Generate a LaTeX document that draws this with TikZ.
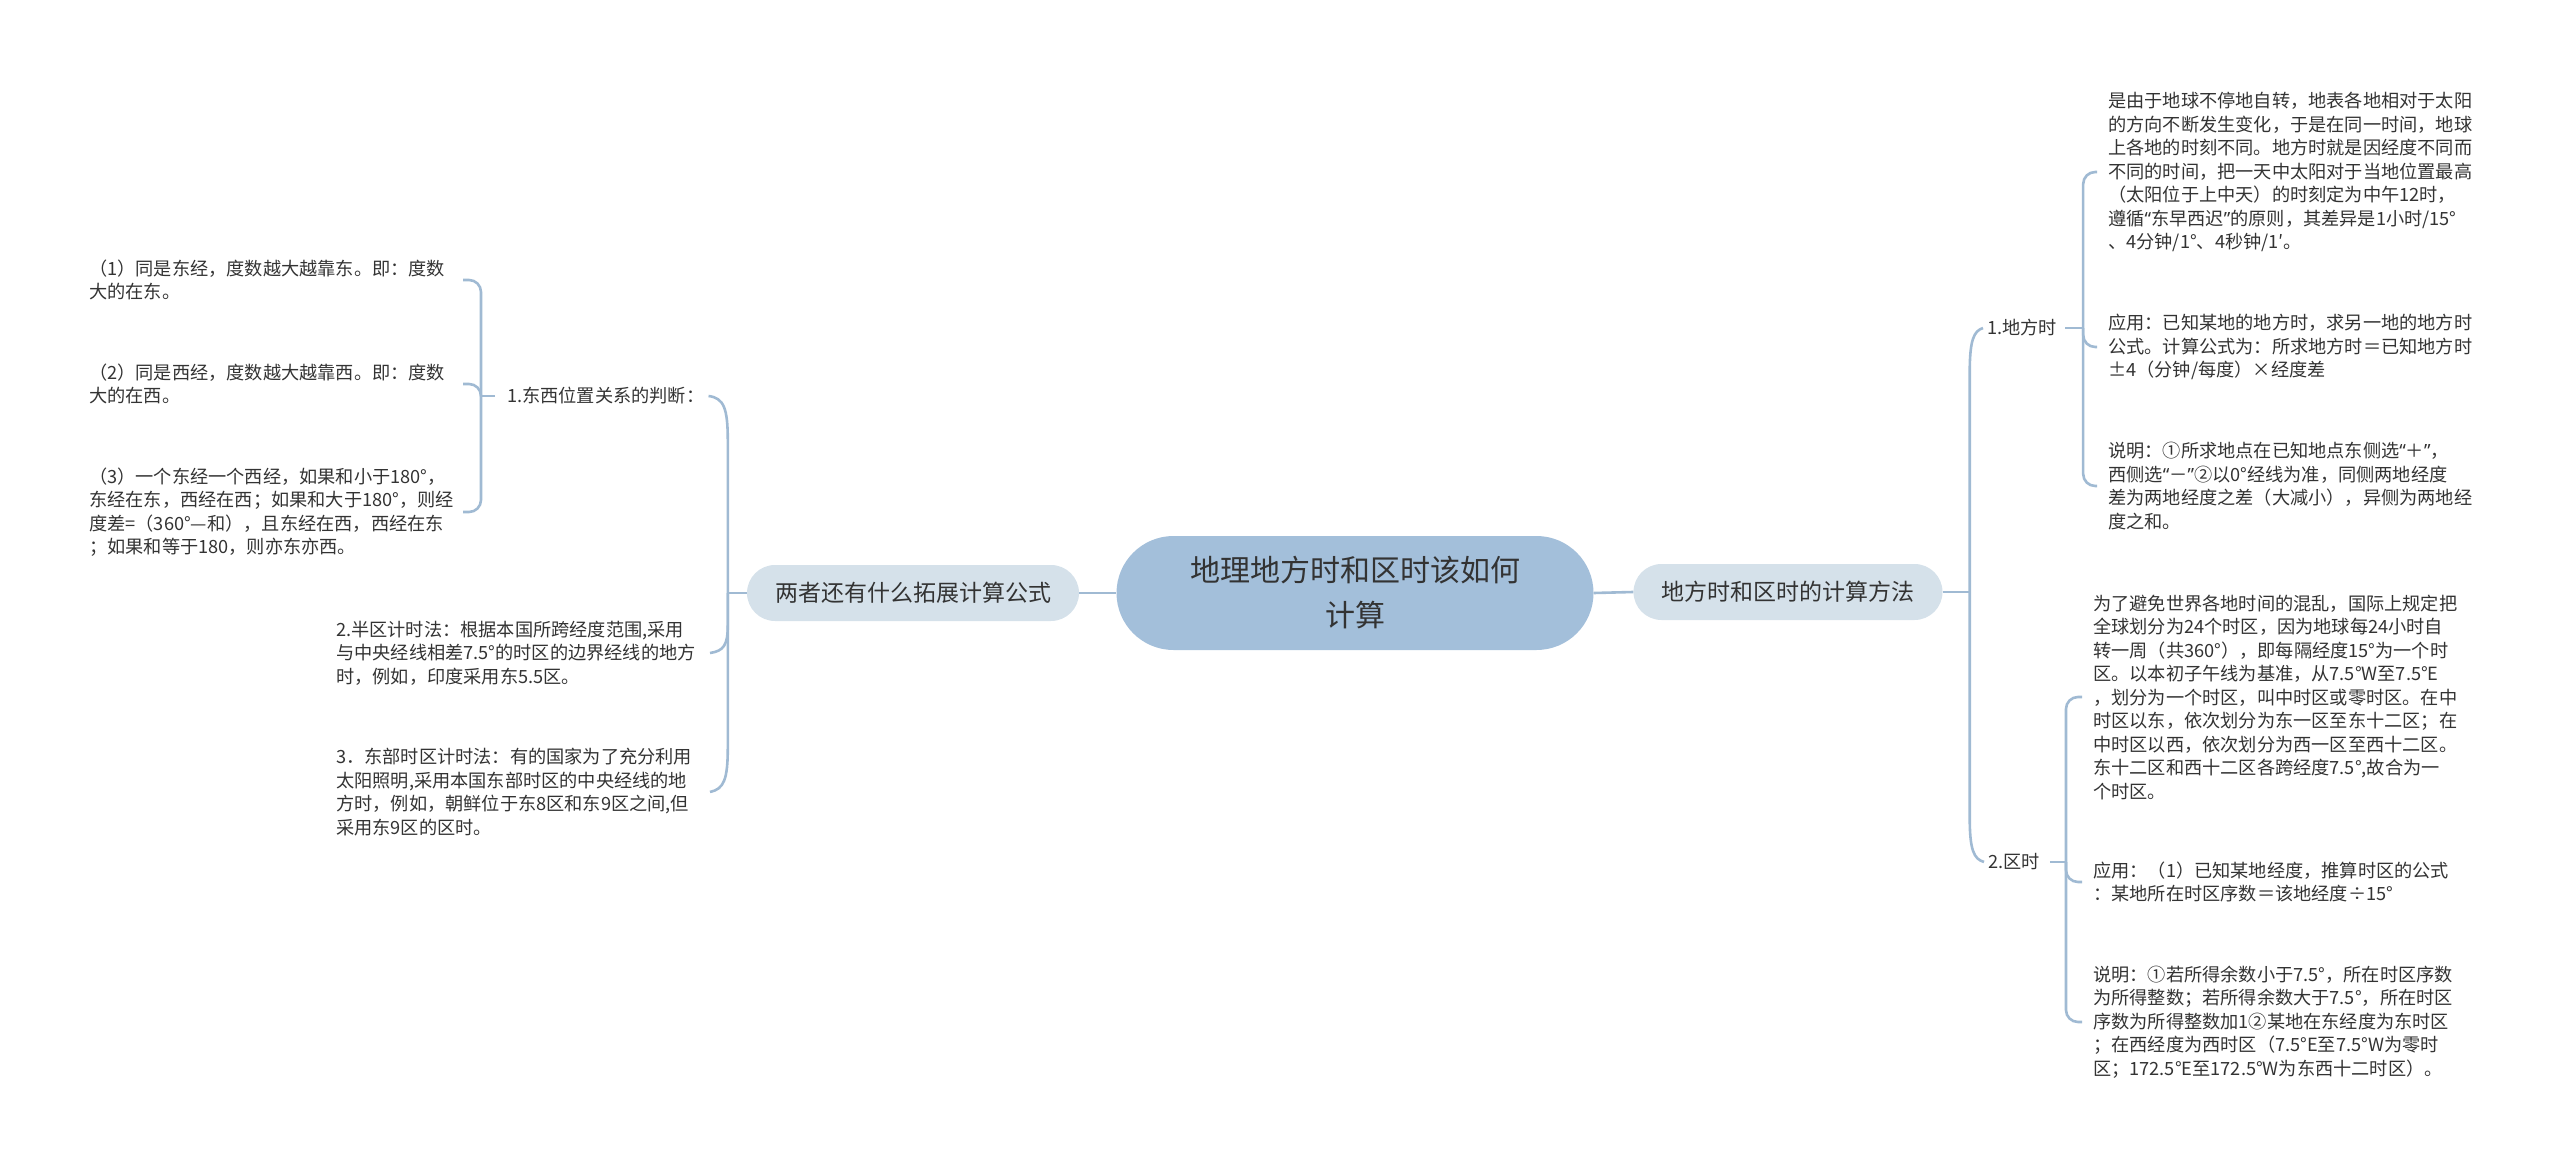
\documentclass[tikz,border=0pt]{standalone}
\usepackage{fontspec}
\setmainfont{Noto Sans CJK SC}
\newfontfamily\quotefont{Noto Sans}
\newcommand{\qopen}{{\quotefont “}}
\newcommand{\qclose}{{\quotefont ”}}
\usetikzlibrary{calc}
\definecolor{rootblue}{HTML}{A3BFDA}
\definecolor{branchblue}{HTML}{D5E1EA}
\definecolor{linkblue}{HTML}{A0BAD3}
\definecolor{inkgray}{HTML}{333333}
\tikzset{
  root/.style={fill=rootblue,rounded corners=57pt,minimum width=477pt,minimum height=114pt,
    align=center,text=inkgray,font=\fontsize{30pt}{45pt}\selectfont},
  branch/.style={fill=branchblue,rounded corners=28pt,minimum height=56pt,inner xsep=28pt,
    text=inkgray,font=\fontsize{23pt}{28pt}\selectfont},
  leaf/.style={inner sep=0pt,anchor=west,align=left,text=inkgray,
    font=\fontsize{18.2pt}{23.5pt}\selectfont},
  link/.style={draw=linkblue,line width=2.6pt},
  fork/.style={link,rounded corners=12pt}
}
\begin{document}
\begin{tikzpicture}[x=1pt,y=-1pt]
  \useasboundingbox (0,0) rectangle (2560,1169);
  \node[root] (root) at (1355,593) {地理地方时和区时该如何\\计算};
  \node[branch] (rb) at (1788,592) {地方时和区时的计算方法};
  \node[branch] (lb) at (913,593) {两者还有什么拓展计算公式};
  \draw[link] (root.east) -- (rb.west);
  \draw[link] (lb.east) -- (root.west);

  % right side
  \node[leaf] (dfs) at (1987,328) {1.地方时};
  \node[leaf] (qs) at (1988,862) {2.区时};
  \node[leaf] (dfs1) at (2108,172) {是由于地球不停地自转，地表各地相对于太阳\\的方向不断发生变化，于是在同一时间，地球\\上各地的时刻不同。地方时就是因经度不同而\\不同的时间，把一天中太阳对于当地位置最高\\（太阳位于上中天）的时刻定为中午12时，\\遵循\qopen 东早西迟\qclose 的原则，其差异是1小时/15°\\、4分钟/1°、4秒钟/1′。};
  \node[leaf] (dfs2) at (2108,347) {应用：已知某地的地方时，求另一地的地方时\\公式。计算公式为：所求地方时＝已知地方时\\±4（分钟/每度）×经度差};
  \node[leaf] (dfs3) at (2108,486) {说明：①所求地点在已知地点东侧选\qopen ＋\qclose ，\\西侧选\qopen －\qclose ②以0°经线为准，同侧两地经度\\差为两地经度之差（大减小），异侧为两地经\\度之和。};
  \node[leaf] (qs1) at (2093,697) {为了避免世界各地时间的混乱，国际上规定把\\全球划分为24个时区，因为地球每24小时自\\转一周（共360°），即每隔经度15°为一个时\\区。以本初子午线为基准，从7.5°W至7.5°E\\，划分为一个时区，叫中时区或零时区。在中\\时区以东，依次划分为东一区至东十二区；在\\中时区以西，依次划分为西一区至西十二区。\\东十二区和西十二区各跨经度7.5°,故合为一\\个时区。};
  \node[leaf] (qs2) at (2093,882) {应用：（1）已知某地经度，推算时区的公式\\：某地所在时区序数＝该地经度÷15°};
  \node[leaf] (qs3) at (2093,1022) {说明：①若所得余数小于7.5°，所在时区序数\\为所得整数；若所得余数大于7.5°，所在时区\\序数为所得整数加1②某地在东经度为东时区\\；在西经度为西时区（7.5°E至7.5°W为零时\\区；172.5°E至172.5°W为东西十二时区）。};

  \draw[link] (rb.east) -- ++(27,0) coordinate (rj);
  \draw[link] (rj) -- ($(rj |- dfs.west)+(0,45)$) .. controls ($(rj |- dfs.west)+(0,12)$) and ($(rj |- dfs.west)+(4,3)$) .. ([xshift=-4pt]dfs.west);
  \draw[link] (rj) -- ($(rj |- qs.west)+(0,-45)$) .. controls ($(rj |- qs.west)+(0,-12)$) and ($(rj |- qs.west)+(4,-3)$) .. ([xshift=-4pt]qs.west);

  \draw[link] ([xshift=8pt]dfs.east) -- ++(18,0) coordinate (j1);
  \foreach \n in {dfs1,dfs2,dfs3}
    \draw[fork] (j1) |- ([xshift=-11pt]\n.west);
  \draw[link] ([xshift=10pt]qs.east) -- ++(16,0) coordinate (j2);
  \foreach \n in {qs1,qs2,qs3}
    \draw[fork] (j2) |- ([xshift=-11pt]\n.west);

  % left side
  \node[leaf] (dx) at (507,396) {1.东西位置关系的判断：};
  \node[leaf] (bq) at (336,653) {2.半区计时法：根据本国所跨经度范围,采用\\与中央经线相差7.5°的时区的边界经线的地方\\时，例如，印度采用东5.5区。};
  \node[leaf] (db) at (336,792) {3．东部时区计时法：有的国家为了充分利用\\太阳照明,采用本国东部时区的中央经线的地\\方时，例如，朝鲜位于东8区和东9区之间,但\\采用东9区的区时。};
  \node[leaf] (dx1) at (89,280) {（1）同是东经，度数越大越靠东。即：度数\\大的在东。};
  \node[leaf] (dx2) at (89,384) {（2）同是西经，度数越大越靠西。即：度数\\大的在西。};
  \node[leaf] (dx3) at (89,512) {（3）一个东经一个西经，如果和小于180°，\\东经在东，西经在西；如果和大于180°，则经\\度差=（360°—和），且东经在西，西经在东\\；如果和等于180，则亦东亦西。};

  \draw[link] (lb.west) -- ++(-19,0) coordinate (lj);
  \draw[link] (lj) -- ($(lj |- dx.east)+(0,45)$) .. controls ($(lj |- dx.east)+(0,12)$) and ($(lj |- dx.east)+(-4,2)$) .. ([xshift=4pt]dx.east);
  \draw[link] (lj) -- ($(lj |- bq.west)+(0,-28)$) .. controls ($(lj |- bq.west)+(0,-8)$) and ($(lj |- bq.west)+(-4,-2)$) .. ($(bq.west)+(374,0)$);
  \draw[link] (lj) -- ($(lj |- db.west)+(0,-45)$) .. controls ($(lj |- db.west)+(0,-12)$) and ($(lj |- db.west)+(-4,-3)$) .. ($(db.west)+(374,0)$);

  \draw[link] ([xshift=-12pt]dx.west) -- ++(-14,0) coordinate (k1);
  \foreach \n in {dx1,dx2,dx3}
    \draw[fork] (k1) |- ($(\n.west)+(374,0)$);
\end{tikzpicture}
\end{document}
